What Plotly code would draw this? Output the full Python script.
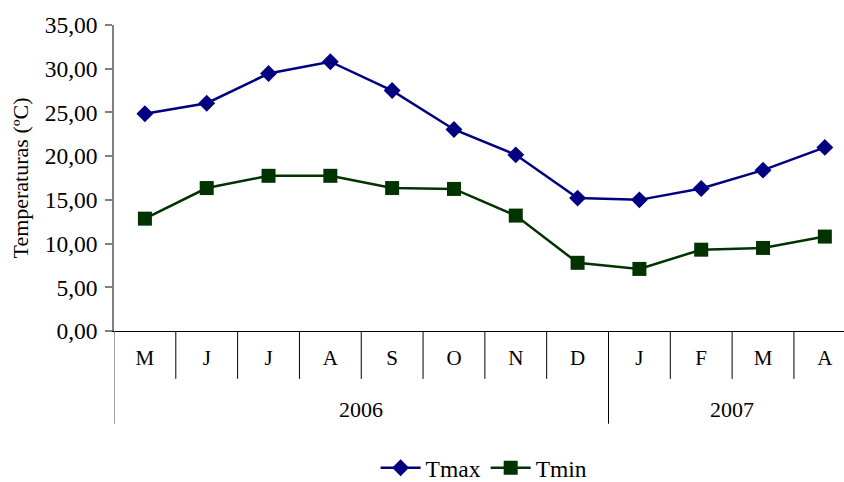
import plotly.graph_objects as go

# Monthly mean temperatures, May 2006 - April 2007
months = ["M", "J", "J", "A", "S", "O", "N", "D", "J", "F", "M", "A"]
years = ["2006"] * 8 + ["2007"] * 4
tmax = [24.85, 26.05, 29.45, 30.8, 27.5, 23.05, 20.15, 15.2, 15.0, 16.3, 18.4, 21.0]
tmin = [12.85, 16.35, 17.75, 17.75, 16.35, 16.25, 13.2, 7.8, 7.1, 9.3, 9.5, 10.8]
y_ticks = [0, 5, 10, 15, 20, 25, 30, 35]

FONT = "Liberation Serif"
xpos = list(range(len(months)))

fig = go.Figure()
fig.add_trace(go.Scatter(
    x=xpos, y=tmax, name="Tmax", mode="lines+markers",
    line=dict(color="#000080", width=2.5),
    marker=dict(symbol="diamond", size=13, color="#000080"),
))
fig.add_trace(go.Scatter(
    x=xpos, y=tmin, name="Tmin", mode="lines+markers",
    line=dict(color="#003300", width=2.5),
    marker=dict(symbol="square", size=14, color="#003300"),
))

# Category dividers below the x axis: short ones between months,
# long ones at the year boundaries.
shapes = []
for i in range(1, len(months)):
    long_line = years[i] != years[i - 1]
    shapes.append(dict(
        type="line", xref="x", yref="paper",
        x0=i - 0.5, x1=i - 0.5, y0=0, y1=-0.303 if long_line else -0.1564,
        line=dict(color="black", width=1),
    ))
# y axis continues down past the category labels
shapes.append(dict(
    type="line", xref="x", yref="paper",
    x0=-0.5, x1=-0.5, y0=0, y1=-0.303,
    line=dict(color="#808080", width=1.5),
))

annotations = []
for yr in dict.fromkeys(years):
    idx = [i for i, v in enumerate(years) if v == yr]
    annotations.append(dict(
        x=(idx[0] + idx[-1]) / 2, xref="x", y=-0.255, yref="paper",
        text=yr, showarrow=False, xanchor="center", yanchor="middle",
        font=dict(family=FONT, size=22, color="black"),
    ))

fig.update_layout(
    width=844, height=482,
    margin=dict(l=114, r=0, t=24.5, b=150.5),
    paper_bgcolor="white", plot_bgcolor="white",
    font=dict(family=FONT, size=22, color="black"),
    showlegend=True,
    legend=dict(
        orientation="h", xref="paper", x=0.507, xanchor="center",
        yref="container", y=0.029, yanchor="middle",
        font=dict(family=FONT, size=23.5, color="black"),
        itemwidth=40, tracegroupgap=0,
    ),
    shapes=shapes,
    annotations=annotations,
    xaxis=dict(
        range=[-0.5, 11.31],
        tickvals=xpos, ticktext=months,
        ticks="", showgrid=False, zeroline=False,
        showline=True, linecolor="black", linewidth=1,
        ticklabelstandoff=8,
        tickfont=dict(family=FONT, size=21, color="black"),
    ),
    yaxis=dict(
        range=[0, 35],
        tickvals=y_ticks,
        ticktext=[f"{v:.2f}".replace(".", ",") for v in y_ticks],
        ticks="outside", ticklen=7, tickcolor="#808080", tickwidth=1.5,
        showgrid=False, zeroline=False,
        showline=True, linecolor="#808080", linewidth=1.5,
        ticklabelstandoff=3,
        tickfont=dict(family=FONT, size=23.5, color="black"),
        title=dict(text="Temperaturas (ºC)", standoff=10,
                   font=dict(family=FONT, size=22, color="black")),
    ),
)

fig.write_html("out.html")
